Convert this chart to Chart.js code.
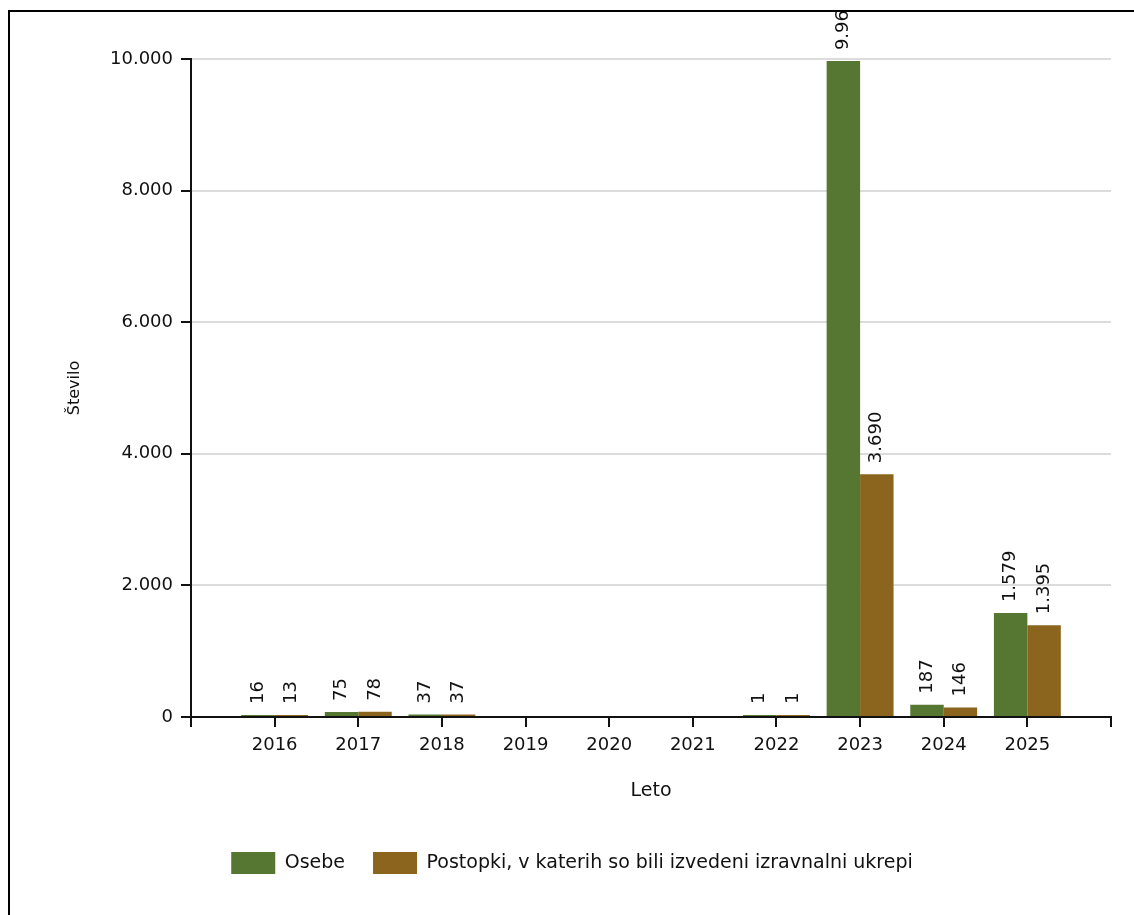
<!DOCTYPE html>
<html><head><meta charset="utf-8">
<script src="https://cdn.jsdelivr.net/npm/chart.js@4.4.1/dist/chart.umd.min.js"></script>
<style>
html,body{margin:0;padding:0;background:#fff;overflow:hidden;width:1134px;height:915px;}
#frame{position:absolute;left:8px;top:10px;width:1300px;height:1100px;border:2px solid #000;box-sizing:border-box;}
#wrap{position:absolute;left:0;top:0;width:1134px;height:915px;}
</style></head><body>
<div id="frame"></div>
<div id="wrap"><canvas id="c" width="1134" height="915"></canvas></div>
<script>
// ---- data ----
const years = ['2016','2017','2018','2019','2020','2021','2022','2023','2024','2025'];
const osebe = [16, 75, 37, null, null, null, 1, 9968, 187, 1579];
const postopki = [13, 78, 37, null, null, null, 1, 3690, 146, 1395];
const seriesNames = ['Osebe', 'Postopki, v katerih so bili izvedeni izravnalni ukrepi'];
const yAxisTitle = 'Število';
const xAxisTitle = 'Leto';
const yMin = 0, yMax = 10000, yStep = 2000;

const colGreen = '#567732';
const colBrown = '#8B651D';
const textCol = '#111111';
const FONT = '"DejaVu Sans", Verdana, sans-serif';

function fmt(v){ return String(v).replace(/\B(?=(\d{3})+(?!\d))/g, '.'); }

// pad categories with an empty slot at each end (axis runs from edge tick to edge tick)
const labels = [''].concat(years, ['']);
const pad = arr => [null].concat(arr, [null]);

const valueLabels = {
  id: 'valueLabels',
  afterDatasetsDraw(chart) {
    const ctx = chart.ctx;
    ctx.save();
    ctx.beginPath();
    ctx.rect(0, 12, chart.width, chart.height);
    ctx.clip();
    ctx.font = '18px ' + FONT;
    ctx.fillStyle = textCol;
    ctx.textAlign = 'left';
    ctx.textBaseline = 'middle';
    chart.data.datasets.forEach((ds, di) => {
      const meta = chart.getDatasetMeta(di);
      meta.data.forEach((el, i) => {
        const v = ds.data[i];
        if (v === null || v === undefined) return;
        ctx.save();
        ctx.translate(el.x, el.y - 11);
        ctx.rotate(-Math.PI / 2);
        ctx.fillText(fmt(v), 0, 0);
        ctx.restore();
      });
    });
    ctx.restore();
  }
};

new Chart(document.getElementById('c'), {
  type: 'bar',
  data: {
    labels: labels,
    datasets: [
      { label: seriesNames[0], data: pad(osebe), backgroundColor: colGreen, borderWidth: 0, minBarLength: 2 },
      { label: seriesNames[1], data: pad(postopki), backgroundColor: colBrown, borderWidth: 0, minBarLength: 2 }
    ]
  },
  options: {
    responsive: false,
    animation: false,
    devicePixelRatio: 1,
    layout: { padding: { left: 33, right: 23, top: 59, bottom: 31 } },
    datasets: { bar: { categoryPercentage: 0.8, barPercentage: 1.0 } },
    plugins: {
      legend: {
        position: 'bottom',
        labels: {
          boxWidth: 44, boxHeight: 22, padding: 28,
          color: textCol, font: { family: FONT, size: 19 }
        }
      },
      tooltip: { enabled: false }
    },
    scales: {
      x: {
        offset: false,
        grid: { display: true, offset: false, drawOnChartArea: false, drawTicks: true, tickLength: 10, tickColor: textCol, lineWidth: 2 },
        border: { display: true, color: textCol, width: 2 },
        ticks: { color: textCol, font: { family: FONT, size: 18 }, padding: 8, autoSkip: false, maxRotation: 0 },
        title: { display: true, text: xAxisTitle, color: textCol, font: { family: FONT, size: 19 }, padding: { top: 0, bottom: 22 } },
        afterFit(scale) { scale.height = 107; }
      },
      y: {
        min: yMin, max: yMax,
        ticks: { stepSize: yStep, color: textCol, font: { family: FONT, size: 18 }, padding: 8, callback: v => fmt(v) },
        grid: { color: '#dcdcdc', lineWidth: 2, drawTicks: true, tickLength: 10, tickColor: textCol },
        border: { display: true, color: textCol, width: 2 },
        title: { display: true, text: yAxisTitle, color: textCol, font: { family: FONT, size: 16 }, padding: { top: 32.4, bottom: 0 } },
        afterFit(scale) { scale.width = 158; }
      }
    }
  },
  plugins: [valueLabels]
});
</script>
</body></html>
